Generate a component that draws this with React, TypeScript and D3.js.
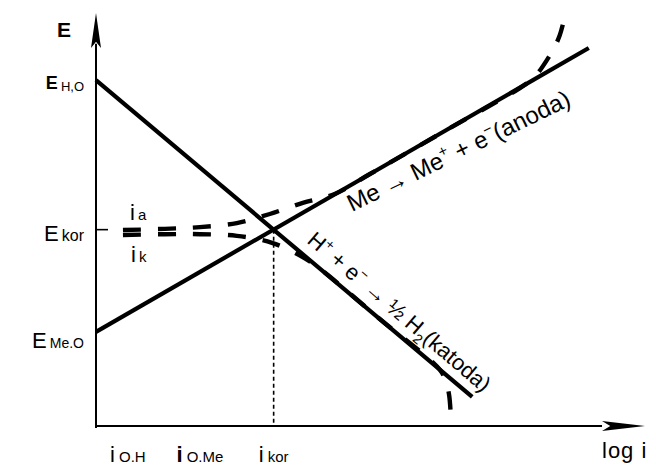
import React from "react";
import * as d3 from "d3";

// Evans diagram: log i on the horizontal axis, potential E on the vertical axis.
// Axis domains are arbitrary units (0..100 each).
const cathodicLine: [number, number][] = [[0, 84.2], [68.4, 7.3]];
const anodicLine: [number, number][] = [[0, 23.1], [89.6, 92.0]];

// Measured net-current curves (dashed)
const anodicCurve: [number, number][] = [
  [4.9, 47.8], [12.5, 48.1], [18.9, 48.5], [25.6, 49.5], [31.6, 51.7],
  [37.6, 54.4], [43.5, 56.6], [49.8, 61.4], [64.4, 72.6], [78.0, 83.1],
  [80.2, 85.7], [82.0, 89.1], [83.3, 92.0], [84.3, 95.0], [84.9, 97.8], [85.3, 100.0],
];
const cathodicCurve: [number, number][] = [
  [4.9, 46.6], [12.5, 46.8], [18.9, 46.8], [25.6, 46.4], [32.0, 44.7],
  [37.5, 41.3], [40.7, 38.4], [51.6, 26.2], [62.5, 13.9], [63.6, 11.0],
  [64.2, 7.8], [64.5, 2.9],
];

const corrosionPoint: [number, number] = [32.3, 47.9];

// Potential labels on the E axis
const eLabelMain = ["E", "E", "E"];
const eLabelSub = ["H,O", "kor", "Me.O"];
const eLabelValue = [84.2, 47.9, 23.1];

// Current labels under the log i axis
const iLabelSub = ["O.H", "O.Me", "kor"];
const iLabelPos = [5.8, 18.9, 32.3];

const W = 656;
const H = 466;
const FONT = "'Liberation Sans', Arial, Helvetica, sans-serif";

export default function App() {
  const x = d3.scaleLinear().domain([0, 100]).range([96, 646]);
  const y = d3.scaleLinear().domain([0, 100]).range([427, 15]);

  const straight = d3
    .line<[number, number]>()
    .x((d) => x(d[0]))
    .y((d) => y(d[1]));
  const smooth = d3
    .line<[number, number]>()
    .x((d) => x(d[0]))
    .y((d) => y(d[1]))
    .curve(d3.curveCatmullRom.alpha(0.5));

  const x0 = x(0);
  const yAxisBase = y(0);
  const kx = x(corrosionPoint[0]);
  const ky = y(corrosionPoint[1]);

  // Label styling per E level
  const eMainSize = [18, 22, 22];
  const eMainWeight = ["bold", "normal", "normal"];
  const eSubSize = [13, 16, 14];
  const eBaselineOffset = [9, 11, 16];

  return (
    <svg
      width={W}
      height={H}
      viewBox={`0 0 ${W} ${H}`}
      style={{ position: "absolute", left: 0, top: 0, background: "#fff" }}
      fontFamily={FONT}
    >
      <rect width={W} height={H} fill="#fff" />

      {/* dashed net-current curves */}
      <path
        d={smooth(anodicCurve) ?? ""}
        fill="none"
        stroke="#000"
        strokeWidth={4.4}
        strokeDasharray="18 17"
      />
      <path
        d={smooth(cathodicCurve) ?? ""}
        fill="none"
        stroke="#000"
        strokeWidth={4.4}
        strokeDasharray="18 17"
      />

      {/* Tafel lines */}
      <path d={straight(cathodicLine) ?? ""} fill="none" stroke="#000" strokeWidth={4.2} />
      <path d={straight(anodicLine) ?? ""} fill="none" stroke="#000" strokeWidth={4.2} />

      {/* corrosion current drop line */}
      <line
        x1={kx}
        x2={kx}
        y1={ky}
        y2={yAxisBase}
        stroke="#000"
        strokeWidth={1.6}
        strokeDasharray="4 3"
      />

      {/* axes */}
      <line x1={x0} x2={x0} y1={yAxisBase + 1} y2={y(93)} stroke="#000" strokeWidth={2} />
      <path
        d={`M${x0},${y(100) - 2} L${x0 + 5},${y(92)} L${x0},${y(93.5)} L${x0 - 5},${y(92)} Z`}
        fill="#000"
      />
      <line x1={x0 - 1} x2={x(92)} y1={yAxisBase - 1} y2={yAxisBase - 1} stroke="#000" strokeWidth={2} />
      <path
        d={`M${x(100) - 1},${yAxisBase - 1} L${x(92)},${yAxisBase - 6} L${x(93.5)},${yAxisBase - 1} L${x(92)},${yAxisBase + 4} Z`}
        fill="#000"
      />

      {/* E_kor tick */}
      <line x1={x0} x2={x0 + 12} y1={ky} y2={ky} stroke="#000" strokeWidth={1.6} />

      {/* axis titles */}
      <text x={57} y={37} fontSize={21} fontWeight="bold">E</text>
      <text x={602} y={458} fontSize={22} letterSpacing={1}>log i</text>

      {/* E labels */}
      {eLabelValue.map((v, i) => (
        <text
          key={`e-${i}`}
          x={x0 - 12}
          y={y(v) + eBaselineOffset[i]}
          textAnchor="end"
        >
          <tspan fontSize={eMainSize[i]} fontWeight={eMainWeight[i]}>{eLabelMain[i]}</tspan>
          <tspan fontSize={eSubSize[i]} dx={3} dy={i === 0 ? 2 : 0}>{eLabelSub[i]}</tspan>
        </text>
      ))}

      {/* i labels */}
      {iLabelPos.map((p, i) => (
        <text key={`i-${i}`} x={x(p)} y={462} textAnchor="middle">
          <tspan fontSize={22} fontWeight={i === 1 ? "bold" : "normal"}>i</tspan>
          <tspan fontSize={15} dx={4}>{iLabelSub[i]}</tspan>
        </text>
      ))}

      {/* i_a / i_k near E_kor */}
      <text x={130} y={220}>
        <tspan fontSize={22}>i</tspan>
        <tspan fontSize={15} dx={3}>a</tspan>
      </text>
      <text x={131} y={262}>
        <tspan fontSize={22}>i</tspan>
        <tspan fontSize={15} dx={3}>k</tspan>
      </text>

      {/* reaction labels */}
      <text x={352} y={212} fontSize={24} transform="rotate(-26 352 212)">
        Me → Me<tspan fontSize={15} dy={-10}>+</tspan>
        <tspan dy={10}> + e</tspan>
        <tspan fontSize={15} dy={-10}>−</tspan>
        <tspan dy={10}>(anoda)</tspan>
      </text>
      <text x={306} y={242} fontSize={22} transform="rotate(40.5 306 242)">
        H<tspan fontSize={14} dy={-9}>+</tspan>
        <tspan dy={9}> + e</tspan>
        <tspan fontSize={14} dy={-9}>−</tspan>
        <tspan dy={9}> → ½ H</tspan>
        <tspan fontSize={14} dy={6}>2</tspan>
        <tspan dy={-6}>(katoda)</tspan>
      </text>
    </svg>
  );
}
